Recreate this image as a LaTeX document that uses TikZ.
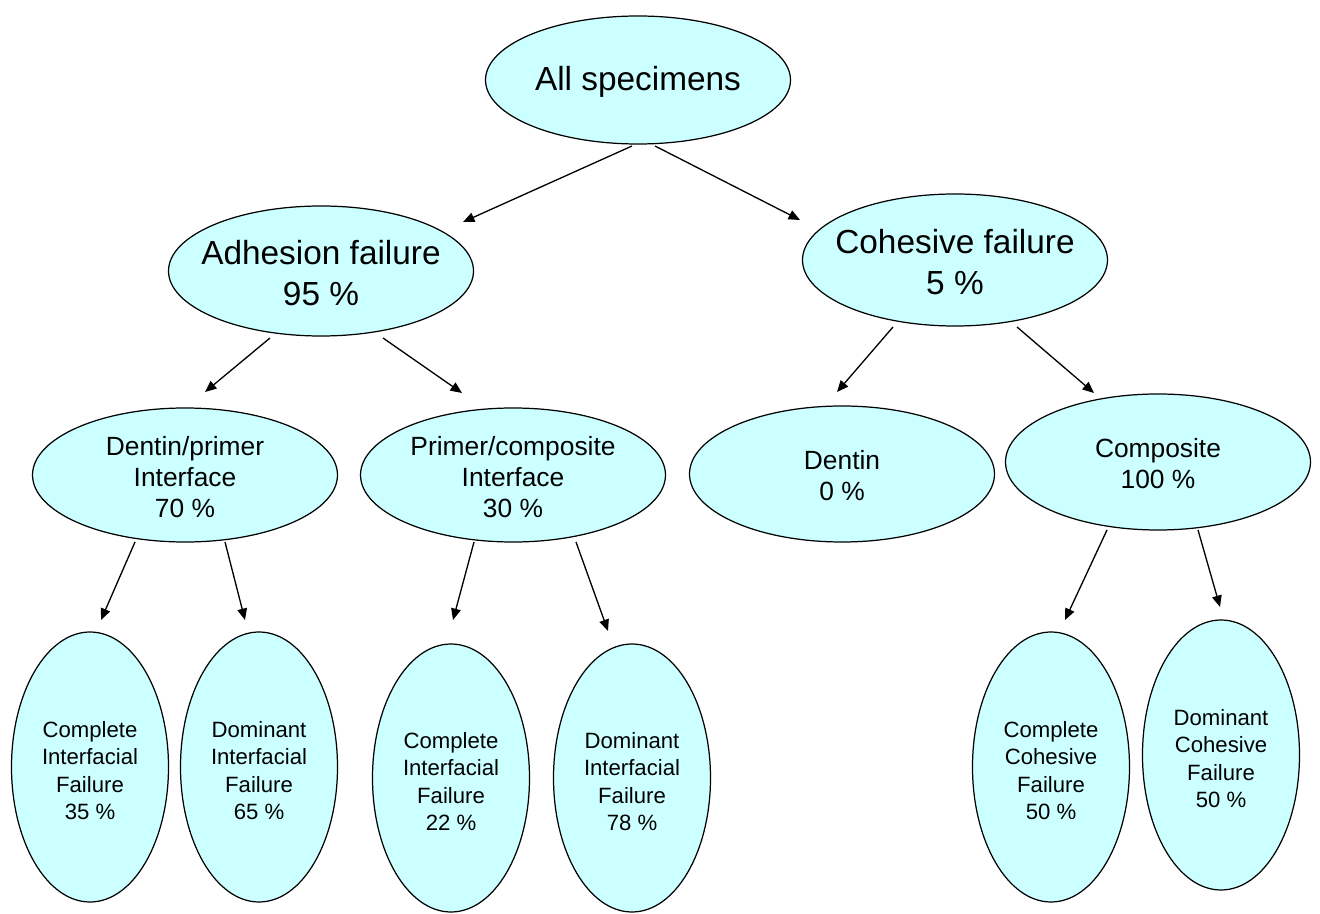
\documentclass[tikz,border=0pt]{standalone}
\usepackage{fontspec}
\setmainfont{Liberation Sans}
\usetikzlibrary{shapes.geometric,arrows.meta,calc}
\definecolor{paleteal}{HTML}{CCFFFF}

\begin{document}
\begin{tikzpicture}[
  blob/.style={ellipse, draw, line width=0.7pt, fill=paleteal, inner sep=0pt},
  topblob/.style={blob, minimum width=6.1cm, minimum height=2.6cm,
    label={[font=\fontsize{19}{23}\selectfont, align=center, yshift=-0.04cm]center:#1}},
  midblob/.style={blob, minimum width=6.1cm, minimum height=2.68cm,
    label={[font=\fontsize{15}{17.6}\selectfont, align=center, yshift=-0.04cm]center:#1}},
  leaf/.style={blob, minimum width=3.14cm, minimum height=5.4cm,
    label={[font=\fontsize{12.6}{15.7}\selectfont, align=center, yshift=-0.07cm]center:#1}},
  arr/.style={-{Triangle[length=6.5pt,width=5.5pt]}, line width=0.75pt},
]
  \useasboundingbox (0,0) rectangle (26.4,-18.28);

  % Root
  \node[topblob={All specimens}, minimum height=2.56cm] (all) at (12.76,-1.6) {};

  % Layer 1
  \node[topblob={Adhesion failure\\95 \%}] (adh) at (6.42,-5.42) {};
  \node[topblob={Cohesive failure\\5 \%}, minimum height=2.64cm] (coh) at (19.1,-5.2) {};

  % Layer 2
  \node[midblob={Dentin/primer\\Interface\\70 \%}] (dp) at (3.7,-9.5) {};
  \node[midblob={Primer/composite\\Interface\\30 \%}] (pc) at (10.26,-9.5) {};
  \node[midblob={Dentin\\0 \%}, minimum height=2.72cm] (den) at (16.84,-9.48) {};
  \node[midblob={Composite\\100 \%}, minimum height=2.72cm] (comp) at (23.16,-9.24) {};

  % Layer 3
  \node[leaf={Complete\\Interfacial\\Failure\\35 \%}] (ci1) at (1.8,-15.34) {};
  \node[leaf={Dominant\\Interfacial\\Failure\\65 \%}] (di1) at (5.18,-15.34) {};
  \node[leaf={Complete\\Interfacial\\Failure\\22 \%}, minimum height=5.36cm] (ci2) at (9.02,-15.56) {};
  \node[leaf={Dominant\\Interfacial\\Failure\\78 \%}, minimum height=5.36cm] (di2) at (12.64,-15.56) {};
  \node[leaf={Complete\\Cohesive\\Failure\\50 \%}] (cc) at (21.02,-15.34) {};
  \node[leaf={Dominant\\Cohesive\\Failure\\50 \%}] (dc) at (24.42,-15.1) {};

  \draw[arr] ($(all)+(-0.12,-1.32)$) -- ($(adh)+(2.84,0.98)$);
  \draw[arr] ($(all)+(0.34,-1.32)$) -- ($(coh)+(-3.1,0.8)$);
  \draw[arr] ($(adh)+(-1.02,-1.34)$) -- ($(dp)+(0.4,1.66)$);
  \draw[arr] ($(adh)+(1.24,-1.34)$) -- ($(pc)+(-1.02,1.64)$);
  \draw[arr] ($(coh)+(-1.24,-1.34)$) -- ($(den)+(-0.1,1.64)$);
  \draw[arr] ($(coh)+(1.24,-1.34)$) -- ($(comp)+(-1.28,1.38)$);
  \draw[arr] ($(dp)+(-1.0,-1.34)$) -- ($(ci1)+(0.22,2.94)$);
  \draw[arr] ($(dp)+(0.8,-1.34)$) -- ($(di1)+(-0.28,2.94)$);
  \draw[arr] ($(pc)+(-0.78,-1.34)$) -- ($(ci2)+(0.04,3.16)$);
  \draw[arr] ($(pc)+(1.26,-1.34)$) -- ($(di2)+(-0.48,2.94)$);
  \draw[arr] ($(comp)+(-1.02,-1.36)$) -- ($(cc)+(0.28,2.94)$);
  \draw[arr] ($(comp)+(0.8,-1.36)$) -- ($(dc)+(-0.02,2.96)$);
\end{tikzpicture}
\end{document}
